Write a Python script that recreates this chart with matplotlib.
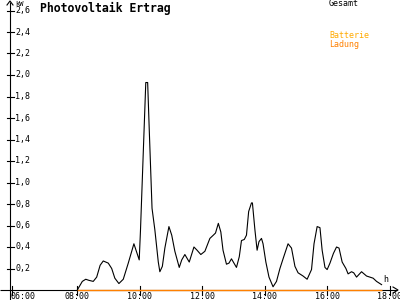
import matplotlib
matplotlib.use("Agg")
import matplotlib.pyplot as plt

# ---- data ----
title = "Photovoltaik Ertrag"
y_ticks = [0.2, 0.4, 0.6, 0.8, 1.0, 1.2, 1.4, 1.6, 1.8, 2.0, 2.2, 2.4, 2.6]
x_ticks = [6, 8, 10, 12, 14, 16, 18]
x_labels = ["06:00", "08:00", "10:00", "12:00", "14:00", "16:00", "18:00"]

gesamt_t = [8.00, 8.16, 8.27, 8.37, 8.51, 8.62, 8.73, 8.83, 8.99, 9.10, 9.20, 9.33,
            9.47, 9.63, 9.81, 9.98, 10.02, 10.19, 10.25, 10.30, 10.39, 10.48, 10.59, 10.64,
            10.72, 10.80, 10.93, 11.02, 11.12, 11.26, 11.34, 11.44, 11.58, 11.73,
            11.83, 11.95, 12.08, 12.24, 12.35, 12.42, 12.51, 12.59, 12.66, 12.77,
            12.85, 12.93, 13.01, 13.09, 13.18, 13.25, 13.34, 13.41, 13.48, 13.57,
            13.60, 13.68, 13.75, 13.81, 13.89, 13.94, 14.03, 14.13, 14.26, 14.37,
            14.48, 14.58, 14.74, 14.85, 14.96, 15.06, 15.22, 15.35, 15.49, 15.57,
            15.67, 15.76, 15.83, 15.92, 15.99, 16.08, 16.19, 16.29, 16.37, 16.47,
            16.59, 16.66, 16.77, 16.84, 16.93, 17.09, 17.25, 17.46, 17.57, 17.73]
gesamt_kw = [0.00, 0.08, 0.10, 0.09, 0.08, 0.12, 0.23, 0.27, 0.25, 0.20, 0.11, 0.06,
             0.10, 0.25, 0.43, 0.28, 0.55, 1.93, 1.93, 1.50, 0.76, 0.56, 0.26, 0.17,
             0.22, 0.39, 0.59, 0.51, 0.36, 0.21, 0.28, 0.33, 0.26, 0.40,
             0.37, 0.33, 0.36, 0.48, 0.51, 0.53, 0.62, 0.54, 0.37, 0.24,
             0.25, 0.29, 0.25, 0.21, 0.31, 0.46, 0.47, 0.51, 0.73, 0.81,
             0.81, 0.56, 0.37, 0.45, 0.48, 0.43, 0.26, 0.12, 0.03, 0.08,
             0.20, 0.29, 0.43, 0.39, 0.22, 0.16, 0.13, 0.10, 0.19, 0.43,
             0.59, 0.58, 0.37, 0.21, 0.19, 0.25, 0.34, 0.40, 0.39, 0.26,
             0.20, 0.15, 0.17, 0.16, 0.12, 0.17, 0.13, 0.11, 0.08, 0.05]

ladung_t = [8.00, 17.73]
ladung_kw = [0.0, 0.0]

# ---- layout ----
W, H = 400, 300
px_per_h = 31.27
px_per_kw = 107.5
x0 = 8 - 77.3 / px_per_h
x1 = x0 + W / px_per_h
y_base_px = 290
y0 = -(H - y_base_px) / px_per_kw
y1 = y_base_px / px_per_kw

def hx(px):
    return x0 + px / px_per_h

def vy(py):
    return (y_base_px - py) / px_per_kw

fig = plt.figure(figsize=(4, 3), dpi=100)
ax = fig.add_axes([0, 0, 1, 1])
ax.set_xlim(x0, x1)
ax.set_ylim(y0, y1)
ax.axis("off")

mono = "DejaVu Sans Mono"
axis_x = hx(10)

# axes lines
ax.plot([hx(0), hx(397)], [0, 0], color="black", lw=0.8, solid_capstyle="butt")
ax.plot([axis_x, axis_x], [vy(300), vy(2)], color="black", lw=0.8, solid_capstyle="butt")
# arrow heads
ax.plot([hx(393), hx(398), hx(393)], [vy(287), vy(290), vy(293)], color="black", lw=0.8)
ax.plot([hx(7), hx(10), hx(13)], [vy(5), vy(1), vy(5)], color="black", lw=0.8)

# y ticks & labels
for v in y_ticks:
    ax.plot([hx(7), hx(14)], [v, v], color="black", lw=0.8)
    ax.text(hx(15), v, f"{v:.1f}".replace(".", ","), fontsize=6, family=mono,
            ha="left", va="center", color="black")
ax.text(hx(15), vy(1), "kW", fontsize=5, family=mono, ha="left", va="top")

# x ticks & labels
for t, lab in zip(x_ticks, x_labels):
    tx = t if t != 6 else hx(12)
    ax.plot([tx, tx], [vy(286), vy(295)], color="black", lw=0.8)
    if t == 6:
        ax.text(hx(11), vy(292), lab, fontsize=6, family=mono, ha="left", va="top")
    else:
        ax.text(t, vy(292), lab, fontsize=6, family=mono, ha="center", va="top")
ax.text(hx(386), vy(284), "h", fontsize=6, family=mono, ha="center", va="bottom")

# series
ax.plot(ladung_t, ladung_kw, color="#FF8000", lw=1.0, solid_capstyle="butt")
ax.plot(gesamt_t, gesamt_kw, color="black", lw=0.8)

# texts
ax.text(hx(40), vy(8), title, fontsize=8.3, family=mono, fontweight="bold",
        ha="left", va="center")
ax.text(hx(329), vy(4), "Gesamt", fontsize=6, family=mono, ha="left", va="center",
        color="black")
ax.text(hx(329), vy(36), "Batterie", fontsize=6, family=mono, ha="left", va="center",
        color="#FFAA00")
ax.text(hx(329), vy(44), "Ladung", fontsize=6, family=mono, ha="left", va="center",
        color="#FF8000")

fig.savefig("out.png", dpi=100)
